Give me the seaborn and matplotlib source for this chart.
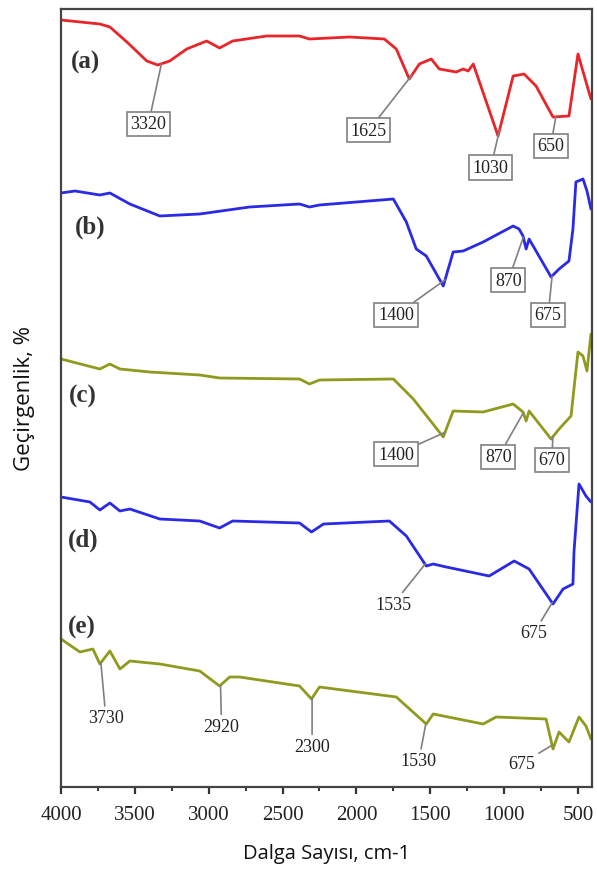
import numpy as np
import pandas as pd
import matplotlib
matplotlib.use('Agg')
import matplotlib.pyplot as plt
from matplotlib.ticker import MultipleLocator
import seaborn as sns

# FTIR spectra (arbitrary stacked transmittance units)
a_wn = [4000, 3737, 3669, 3554, 3419, 3345, 3264, 3149, 3014, 2926, 2838, 2608, 2385, 2318, 2047,
        1811, 1730, 1642, 1574, 1493, 1439, 1324, 1277, 1243, 1209, 1041, 939, 865, 784, 669, 561, 500, 412]
a_t = [767, 763, 760, 745, 726, 722, 726, 738, 746, 739, 746, 751, 751, 748, 750,
       748, 738, 708, 723, 728, 718, 715, 718, 716, 723, 651, 711, 713, 701, 670, 671, 733, 688]

b_wn = [4000, 3905, 3737, 3669, 3534, 3331, 3061, 2723, 2385, 2318, 2250, 1750, 1662, 1595, 1527, 1412,
        1345, 1277, 1142, 939, 899, 872, 851, 831, 682, 628, 561, 534, 514, 466, 439, 412]
b_t = [594, 596, 592, 594, 583, 571, 573, 580, 583, 580, 582, 588, 565, 538, 531, 501,
       535, 536, 545, 561, 558, 551, 538, 548, 510, 518, 526, 558, 605, 608, 596, 578]

c_wn = [4000, 3737, 3669, 3601, 3399, 3061, 2926, 2385, 2318, 2250, 1750, 1615, 1412, 1345, 1142,
        939, 872, 851, 831, 682, 628, 547, 520, 500, 466, 439, 412]
c_t = [428, 418, 423, 418, 415, 412, 409, 408, 403, 407, 408, 388, 350, 376, 375,
       383, 375, 366, 376, 348, 358, 371, 408, 435, 431, 416, 453]

d_wn = [4000, 3804, 3737, 3669, 3601, 3534, 3331, 3061, 2926, 2838, 2385, 2304, 2223, 1777, 1662, 1527,
        1480, 1392, 1101, 932, 831, 669, 601, 534, 527, 493, 446, 412]
d_t = [290, 285, 277, 284, 276, 278, 268, 266, 259, 266, 264, 255, 263, 266, 251, 221,
       223, 220, 211, 226, 218, 183, 198, 203, 235, 303, 291, 285]

e_wn = [4000, 3872, 3784, 3737, 3669, 3601, 3534, 3331, 3061, 2926, 2858, 2791, 2385, 2304, 2250,
        1730, 1527, 1480, 1142, 1054, 716, 669, 628, 561, 493, 446, 412]
e_t = [148, 135, 138, 123, 136, 118, 126, 123, 116, 101, 110, 110, 101, 88, 100,
       90, 63, 73, 63, 70, 68, 38, 55, 45, 70, 61, 48]

samples = ['(a)', '(b)', '(c)', '(d)', '(e)']
colors = ['#e8262a', '#2a2ae6', '#8f9a1e', '#2a2ae6', '#8f9a1e']

# peak labels: (sample, wavenumber, text offset in pixels, boxed)
peaks = [
    ('(a)', 3320, (-13, -60), True), ('(a)', 1625, (-43, -55), True),
    ('(a)', 1030, (-9, -38), True), ('(a)', 650, (-5, -29), True),
    ('(b)', 1400, (-49, -35), True), ('(b)', 870, (-15, -43), True), ('(b)', 675, (-4, -39), True),
    ('(c)', 1400, (-49, -22), True), ('(c)', 870, (-25, -44), True), ('(c)', 670, (-1, -23), True),
    ('(d)', 1535, (-32, -40), False), ('(d)', 675, (-18, -30), False),
    ('(e)', 3730, (5, -55), False), ('(e)', 2920, (1, -41), False), ('(e)', 2300, (0, -48), False),
    ('(e)', 1530, (-7, -37), False), ('(e)', 675, (-30, -18), False),
]

spectra = {'(a)': (a_wn, a_t), '(b)': (b_wn, b_t), '(c)': (c_wn, c_t),
           '(d)': (d_wn, d_t), '(e)': (e_wn, e_t)}

frames = []
for s in samples:
    wn, t = spectra[s]
    frames.append(pd.DataFrame({'wn': wn, 't': t, 'sample': s}))
df = pd.concat(frames, ignore_index=True)

sns.set_style('white')
fig = plt.figure(figsize=(5.97, 8.7), dpi=100)
ax = fig.add_axes([61 / 597, 82 / 870, 531 / 597, 778 / 870])

sns.lineplot(data=df, x='wn', y='t', hue='sample', palette=dict(zip(samples, colors)),
             estimator=None, sort=False, linewidth=2.0, legend=False, ax=ax)

ax.set_xlim(4000, 405)
ax.set_ylim(0, 778)
ax.set_yticks([])
ax.xaxis.set_major_locator(MultipleLocator(500))
ax.xaxis.set_minor_locator(MultipleLocator(250))
ax.tick_params(axis='x', which='major', direction='out', length=5, width=1.6, color='#333333',
               labelsize=15, labelcolor='#222222', pad=8, bottom=True)
ax.tick_params(axis='x', which='minor', direction='out', length=3, width=1.4, color='#333333', bottom=True)
for lab in ax.get_xticklabels():
    lab.set_family('Liberation Serif')

for sp in ax.spines.values():
    sp.set_color('#444444')
    sp.set_linewidth(1.6)

ax.set_xlabel('Dalga Sayısı, cm-1', family='Open Sans', fontsize=14.5, color='#111111', labelpad=14)
ax.set_ylabel('Geçirgenlik, %', family='Open Sans', fontsize=16, color='#111111', labelpad=19)

# sample letters
letter_pos = {'(a)': (3831, 726), '(b)': (3804, 561), '(c)': (3851, 392), '(d)': (3851, 248), '(e)': (3858, 161)}
for s in samples:
    x, y = letter_pos[s]
    ax.text(x, y, s, family='Liberation Serif', fontsize=18, fontweight='bold', color='#333333',
            ha='center', va='center')

for s, w, off, boxed in peaks:
    wn, t = spectra[s]
    y = np.interp(w, wn[::-1], t[::-1])
    bbox = dict(boxstyle='square,pad=0.2', fc='white', ec='#808080', lw=1.2) if boxed else None
    ax.annotate(str(w), xy=(w, y), xytext=off, textcoords='offset pixels',
                ha='center', va='center', family='Liberation Serif', fontsize=13, color='#222222',
                bbox=bbox, arrowprops=dict(arrowstyle='-', color='#808080', lw=1.2, shrinkA=0, shrinkB=0))

fig.savefig('out.png', dpi=100)
